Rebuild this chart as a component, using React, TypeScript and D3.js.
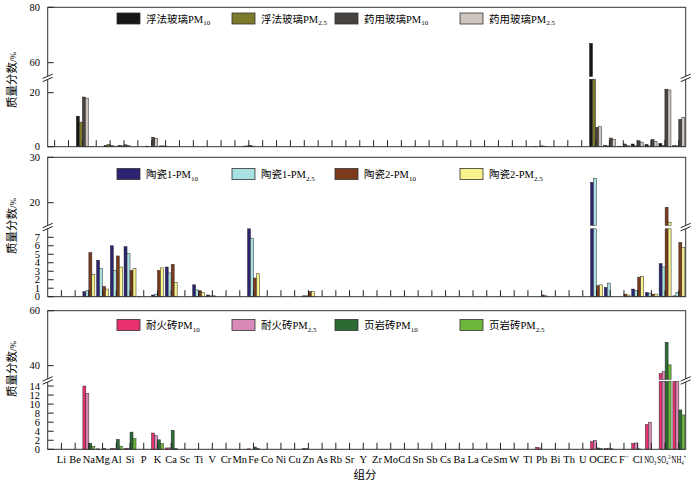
import React from "react";
import * as d3 from "d3";

const categories = ["Li","Be","Na","Mg","Al","Si","P","K","Ca","Sc","Ti","V","Cr","Mn","Fe","Co","Ni","Cu","Zn","As","Rb","Sr","Y","Zr","Mo","Cd","Sn","Sb","Cs","Ba","La","Ce","Sm","W","Tl","Pb","Bi","Th","U","OC","EC","F-","Cl","NO3-","SO42-","NH4+"];

// Panel 1: glass
const floatGlassPM10 = [
  0, 0, 11.3, 0.1, 0.5, 0.5, 0, 0.2, 0.3, 0,
  0, 0, 0, 0, 0.2, 0, 0, 0, 0, 0,
  0, 0, 0, 0, 0, 0, 0, 0, 0, 0,
  0, 0, 0, 0, 0, 0.1, 0, 0, 0, 67,
  0.5, 0.2, 1.0, 0.8, 1.2, 0.4];
const floatGlassPM25 = [
  0, 0, 9.1, 0, 0.8, 0.3, 0, 0, 0.3, 0,
  0, 0, 0, 0, 0.3, 0, 0, 0, 0, 0,
  0, 0, 0, 0, 0, 0, 0, 0, 0, 0,
  0, 0, 0, 0, 0, 0, 0, 0, 0, 30,
  0.3, 0.1, 0.3, 0.3, 0.5, 0.3];
const medGlassPM10 = [
  0, 0, 18.4, 0, 0.4, 0.7, 0, 3.5, 0.2, 0,
  0, 0, 0, 0, 0.5, 0, 0, 0, 0, 0,
  0, 0, 0, 0, 0, 0, 0, 0, 0, 0,
  0, 0, 0, 0, 0, 0.3, 0, 0, 0, 7.2,
  3.2, 1.0, 2.2, 2.7, 21.3, 10.1];
const medGlassPM25 = [
  0, 0, 18.0, 0, 0.2, 0.5, 0, 3.0, 0, 0,
  0, 0, 0, 0, 0.2, 0, 0, 0, 0, 0,
  0, 0, 0, 0, 0, 0, 0, 0, 0, 0,
  0, 0, 0, 0, 0, 0.2, 0, 0, 0, 7.4,
  2.7, 0.4, 1.7, 2.0, 21.0, 10.9];

// Panel 2: ceramics
const ceramic1PM10 = [
  0, 0, 0.6, 4.3, 6.0, 5.9, 0.05, 0.2, 3.5, 0,
  1.4, 0.2, 0, 0, 8.0, 0, 0, 0, 0.1, 0,
  0, 0, 0, 0, 0, 0, 0, 0, 0, 0,
  0, 0, 0, 0, 0, 0, 0, 0, 0, 24.5,
  1.1, 0, 0.9, 0.5, 3.9, 0.1];
const ceramic1PM25 = [
  0, 0, 0.7, 3.3, 3.1, 5.1, 0, 0.3, 2.8, 0,
  0.8, 0.1, 0, 0, 6.9, 0, 0, 0, 0.1, 0,
  0, 0, 0, 0, 0, 0, 0, 0, 0, 0,
  0, 0, 0, 0, 0, 0, 0, 0, 0, 25.4,
  1.6, 0, 0.7, 0.4, 3.5, 0.5];
const ceramic2PM10 = [
  0, 0, 5.2, 1.2, 4.8, 3.1, 0, 3.1, 3.8, 0,
  0.7, 0.1, 0, 0, 2.2, 0, 0, 0, 0.6, 0,
  0, 0, 0, 0, 0, 0, 0, 0, 0, 0,
  0, 0, 0, 0, 0, 0.2, 0, 0, 0, 1.3,
  0, 0.3, 2.3, 0.3, 19.0, 6.4];
const ceramic2PM25 = [
  0, 0, 2.6, 0.9, 3.5, 3.3, 0, 3.4, 1.7, 0,
  0.5, 0, 0, 0, 2.7, 0, 0, 0, 0.6, 0,
  0, 0, 0, 0, 0, 0, 0, 0, 0, 0,
  0, 0, 0, 0, 0, 0.1, 0, 0, 0, 1.4,
  0, 0.2, 2.4, 0.3, 15.7, 5.8];

// Panel 3: bricks
const refractoryPM10 = [
  0, 0, 14.0, 0.1, 0.2, 0.2, 0, 3.6, 0.3, 0,
  0, 0, 0, 0, 0.1, 0, 0, 0, 0.2, 0,
  0, 0, 0, 0, 0, 0, 0, 0, 0, 0,
  0, 0, 0, 0, 0, 0.45, 0, 0, 0, 1.7,
  0.2, 0, 1.3, 5.5, 37.2, 20];
const refractoryPM25 = [
  0, 0, 12.4, 0, 0.2, 0.2, 0, 3.0, 0.3, 0,
  0, 0, 0, 0, 0, 0, 0, 0, 0.2, 0,
  0, 0, 0, 0, 0, 0, 0, 0, 0, 0,
  0, 0, 0, 0, 0, 0.3, 0, 0, 0, 2.0,
  0.25, 0, 1.4, 6.0, 37.8, 20];
const shalePM10 = [
  0, 0, 1.3, 0.2, 2.2, 3.8, 0, 2.1, 4.2, 0,
  0, 0, 0, 0, 0.5, 0, 0, 0, 0, 0,
  0, 0, 0, 0, 0, 0, 0, 0, 0, 0,
  0, 0, 0, 0, 0, 0, 0, 0, 0, 0.3,
  0.1, 0, 0.1, 0, 48.5, 8.7];
const shalePM25 = [
  0, 0, 0.6, 0, 0.7, 2.35, 0, 1.25, 0.2, 0,
  0, 0, 0, 0, 0.2, 0, 0, 0, 0, 0,
  0, 0, 0, 0, 0, 0, 0, 0, 0, 0,
  0, 0, 0, 0, 0, 0, 0, 0, 0, 0.2,
  0, 0, 0, 0, 40.3, 7.6];

const legend1 = [["浮法玻璃PM", "10"], ["浮法玻璃PM", "2.5"], ["药用玻璃PM", "10"], ["药用玻璃PM", "2.5"]];
const legend2 = [["陶瓷1-PM", "10"], ["陶瓷1-PM", "2.5"], ["陶瓷2-PM", "10"], ["陶瓷2-PM", "2.5"]];
const legend3 = [["耐火砖PM", "10"], ["耐火砖PM", "2.5"], ["页岩砖PM", "10"], ["页岩砖PM", "2.5"]];

const colors1 = ["#161616", "#7d7a2c", "#48433f", "#cdc6c0"];
const colors2 = ["#2c2470", "#a9e0e2", "#7b3a1c", "#f7f28c"];
const colors3 = ["#e8306f", "#d98ab9", "#2b6b33", "#6cb73c"];

const lowerTicks1 = [0, 20];
const upperTicks1 = [60, 80];
const lowerTicks2 = [0, 1, 2, 3, 4, 5, 6, 7];
const upperTicks2 = [20, 30];
const lowerTicks3 = [0, 2, 4, 6, 8, 10, 12, 14];
const upperTicks3 = [40, 60];

const SERIF = "'Liberation Serif', 'Times New Roman', 'Noto Sans CJK SC', serif";
const CJK = "'Noto Sans CJK SC', 'Liberation Serif', serif";

const X0 = 47.7;
const X1 = 685.7;

const panels = [
  {
    top: 7.3, bottom: 146.7, lowerTopPx: 79.2, upperBottomPx: 76.5,
    lower: [0, 25], upper: [55, 80], lowerTicks: lowerTicks1, upperTicks: upperTicks1,
    xDomain: [-0.5, 45.5], series: [floatGlassPM10, floatGlassPM25, medGlassPM10, medGlassPM25],
    colors: colors1, legend: legend1, legendY: 13, labelY: 80,
  },
  {
    top: 157.3, bottom: 296.7, lowerTopPx: 228.8, upperBottomPx: 225.4,
    lower: [0, 8], upper: [15, 30], lowerTicks: lowerTicks2, upperTicks: upperTicks2,
    xDomain: [-1, 45.5], series: [ceramic1PM10, ceramic1PM25, ceramic2PM10, ceramic2PM25],
    colors: colors2, legend: legend2, legendY: 168.5, labelY: 226,
  },
  {
    top: 310.7, bottom: 449.3, lowerTopPx: 381.5, upperBottomPx: 379.4,
    lower: [0, 15], upper: [35, 60], lowerTicks: lowerTicks3, upperTicks: upperTicks3,
    xDomain: [-1, 45.5], series: [refractoryPM10, refractoryPM25, shalePM10, shalePM25],
    colors: colors3, legend: legend3, legendY: 319.5, labelY: 369,
  },
];

const legendX = [117, 232, 335, 460];

function XLabel({ label, x, y }: { label: string; x: number; y: number }) {
  if (label === "F-") {
    return (
      <text x={x} y={y} textAnchor="middle" fontFamily={SERIF} fontSize={10.5}>
        F<tspan fontSize={7} dy={-4}>−</tspan>
      </text>
    );
  }
  const special: Record<string, [string, string, string]> = {
    "NO3-": ["NO", "3", "−"],
    "SO42-": ["SO", "4", "2−"],
    "NH4+": ["NH", "4", "+"],
  };
  if (special[label]) {
    const [b, sub, sup] = special[label];
    return (
      <g transform={`translate(${x},${y}) scale(0.72,1)`}>
        <text x={0} y={0} textAnchor="middle" fontFamily={SERIF} fontSize={9.5}>
          {b}
          <tspan fontSize={6} dy={2}>{sub}</tspan>
          <tspan fontSize={6} dy={-6}>{sup}</tspan>
        </text>
      </g>
    );
  }
  return (
    <text x={x} y={y} textAnchor="middle" fontFamily={SERIF} fontSize={10.5}>
      {label}
    </text>
  );
}

function BreakMark({ x, y }: { x: number; y: number }) {
  const dx = 5, sl = 2.2, gap = 1.6;
  return (
    <g>
      <polygon
        points={`${x - dx},${y - gap + sl} ${x + dx},${y - gap - sl} ${x + dx},${y + gap - sl} ${x - dx},${y + gap + sl}`}
        fill="#fff"
      />
      <line x1={x - dx} y1={y - gap + sl} x2={x + dx} y2={y - gap - sl} stroke="#222" strokeWidth={1} />
      <line x1={x - dx} y1={y + gap + sl} x2={x + dx} y2={y + gap - sl} stroke="#222" strokeWidth={1} />
    </g>
  );
}

function Panel({ p }: { p: (typeof panels)[number] }) {
  const x = d3.scaleLinear().domain(p.xDomain).range([X0, X1]);
  const yL = d3.scaleLinear().domain(p.lower).range([p.bottom, p.lowerTopPx]);
  const yU = d3.scaleLinear().domain(p.upper).range([p.upperBottomPx, p.top]);
  const bw = (x(1) - x(0)) * 0.218;
  const breakY = (p.lowerTopPx + p.upperBottomPx) / 2;

  const bars: React.ReactNode[] = [];
  p.series.forEach((vals, s) => {
    vals.forEach((v, i) => {
      if (!v) return;
      const bx = x(i) + (s - 2) * bw;
      const lv = Math.min(v, p.lower[1]);
      const yt = yL(lv);
      bars.push(
        <rect key={`l${s}-${i}`} x={bx} y={yt} width={bw} height={p.bottom - yt}
          fill={p.colors[s]} stroke="#2a2a2a" strokeWidth={0.5} />
      );
      if (v > p.upper[0]) {
        const ut = yU(Math.min(v, p.upper[1]));
        bars.push(
          <rect key={`u${s}-${i}`} x={bx} y={ut} width={bw} height={p.upperBottomPx - ut}
            fill={p.colors[s]} stroke="#2a2a2a" strokeWidth={0.5} />
        );
      }
    });
  });

  return (
    <g>
      {bars}
      {categories.map((c, i) => (
        <line key={`t${i}`} x1={x(i)} x2={x(i)} y1={p.bottom} y2={p.bottom - 6.5} stroke="#222" strokeWidth={1} />
      ))}
      <rect x={X0} y={p.top} width={X1 - X0} height={p.bottom - p.top} fill="none" stroke="#333" strokeWidth={1} />
      {p.lowerTicks.map((t) => (
        <g key={`yl${t}`}>
          <line x1={X0} x2={X0 + 6} y1={yL(t)} y2={yL(t)} stroke="#222" strokeWidth={1} />
          <text x={40} y={yL(t)} dy="0.35em" textAnchor="end" fontFamily={SERIF} fontSize={10.5}>{t}</text>
        </g>
      ))}
      {p.upperTicks.map((t) => (
        <g key={`yu${t}`}>
          <line x1={X0} x2={X0 + 6} y1={yU(t)} y2={yU(t)} stroke="#222" strokeWidth={1} />
          <text x={40} y={yU(t)} dy="0.35em" textAnchor="end" fontFamily={SERIF} fontSize={10.5}>{t}</text>
        </g>
      ))}
      <BreakMark x={X0} y={breakY} />
      <BreakMark x={X1} y={breakY} />
      {p.legend.map((l, k) => (
        <g key={`lg${k}`}>
          <rect x={legendX[k]} y={p.legendY} width={23} height={11} fill={p.colors[k]} stroke="#333" strokeWidth={0.8} />
          <text x={legendX[k] + 29} y={p.legendY + 9.5} fontFamily={SERIF} fontSize={10.5}>
            {l[0]}
            <tspan fontSize={7} dy={2.5}>{l[1]}</tspan>
          </text>
        </g>
      ))}
      <text transform={`translate(16,${p.labelY}) rotate(-90)`} textAnchor="middle" fontFamily={CJK} fontSize={11.5}>
        质量分数<tspan fontFamily={SERIF} fontSize={9}>/%</tspan>
      </text>
    </g>
  );
}

export default function App() {
  const p3 = panels[2];
  const x3 = d3.scaleLinear().domain(p3.xDomain).range([X0, X1]);
  return (
    <svg width={700} height={483} style={{ position: "absolute", left: 0, top: 0, background: "#fff" }}>
      <rect x={0} y={0} width={700} height={483} fill="#fff" />
      {panels.map((p, k) => (
        <Panel key={k} p={p} />
      ))}
      {categories.map((c, i) => (
        <XLabel key={c} label={c} x={x3(i)} y={463} />
      ))}
      <text x={365} y={479} textAnchor="middle" fontFamily={CJK} fontSize={11.5}>组分</text>
    </svg>
  );
}
